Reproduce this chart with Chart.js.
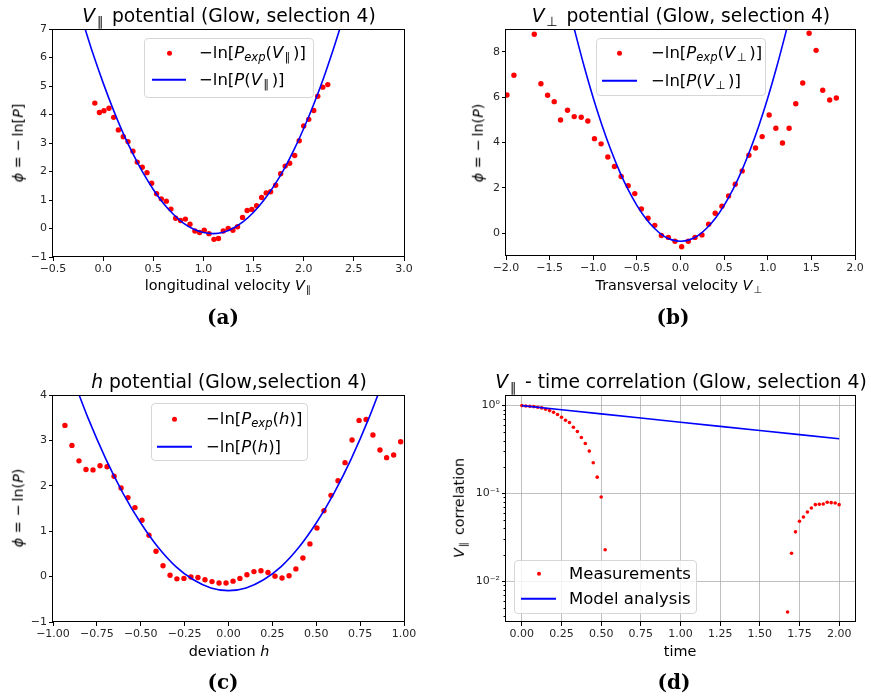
<!DOCTYPE html>
<html>
<head>
<meta charset="utf-8">
<script src="https://cdn.jsdelivr.net/npm/chart.js@4.4.1/dist/chart.umd.min.js"></script>
<style>
    body { margin: 0; background: #fff; }
    #fig { position: relative; width: 871px; height: 700px; overflow: hidden; font-family: "DejaVu Sans", sans-serif; color: #000; }
    #fig canvas { position: absolute; }
    .txt { position: absolute; white-space: nowrap; transform: translate(-50%, -50%); line-height: 1; }
    .ttl { font-size: 18.7px; }
    .lab { font-size: 14.4px; }
    .rot { transform: translate(-50%, -50%) rotate(-90deg); }
    .cap { font-family: "DejaVu Serif", serif; font-weight: bold; font-size: 20px; }
    .leg { position: absolute; border: 1px solid #d6d6d6; border-radius: 4px; background: rgba(255,255,255,0.8); box-sizing: border-box; }
    .row { position: absolute; transform: translateY(-50%); display: flex; align-items: center; white-space: nowrap; font-size: 16.5px; line-height: 1; }
    .mk { display: flex; align-items: center; justify-content: center; }
    sub { font-size: 70%; vertical-align: baseline; position: relative; top: 0.3em; line-height: 0; }
    sub.par { margin-left: 0.12em; margin-right: 0.22em; }
</style>
</head>
<body>
<div id="fig"></div>
<script>
// ==========================================
// DATOS
// ==========================================

// (a) potencial V_par
const aExpX = [-0.083, -0.037, 0.008, 0.058, 0.105, 0.152, 0.201, 0.248, 0.297, 0.34,
               0.39, 0.437, 0.484, 0.533, 0.58, 0.63, 0.676, 0.723, 0.772, 0.82,
               0.866, 0.915, 0.962, 1.008, 1.055, 1.105, 1.15, 1.198, 1.247, 1.294,
               1.34, 1.39, 1.436, 1.483, 1.53, 1.58, 1.626, 1.67, 1.72, 1.77,
               1.815, 1.86, 1.91, 1.955, 2.0, 2.05, 2.1, 2.14, 2.19, 2.24];
const aExpY = [4.40, 4.07, 4.13, 4.22, 3.90, 3.46, 3.22, 3.05, 2.71, 2.33,
               2.15, 1.96, 1.59, 1.22, 1.04, 0.96, 0.68, 0.36, 0.28, 0.33,
               0.15, -0.09, -0.14, -0.06, -0.18, -0.38, -0.35, -0.09, 0.0, -0.06,
               0.06, 0.39, 0.63, 0.67, 0.80, 1.09, 1.25, 1.29, 1.52, 1.92,
               2.19, 2.29, 2.56, 3.08, 3.60, 3.83, 4.14, 4.64, 4.96, 5.05];
const aFitX = [-0.2, -0.1, 0.0, 0.1, 0.2, 0.3, 0.4, 0.5, 0.6, 0.7, 0.8, 0.9, 1.0, 1.1,
               1.2, 1.3, 1.4, 1.5, 1.6, 1.7, 1.8, 1.9, 2.0, 2.1, 2.2, 2.3, 2.4];
const aFitY = [7.23, 6.12, 5.11, 4.18, 3.34, 2.60, 1.94, 1.37, 0.89, 0.50, 0.19, -0.02, -0.14, -0.18,
               -0.13, 0.02, 0.25, 0.57, 0.98, 1.48, 2.06, 2.74, 3.51, 4.36, 5.30, 6.34, 7.46];
const aTicksX = [-0.5, 0.0, 0.5, 1.0, 1.5, 2.0, 2.5, 3.0];
const aLabelsX = ['\u22120.5', '0.0', '0.5', '1.0', '1.5', '2.0', '2.5', '3.0'];
const aTicksY = [-1, 0, 1, 2, 3, 4, 5, 6, 7];
const aLabelsY = ['\u22121', '0', '1', '2', '3', '4', '5', '6', '7'];

// (b) potencial V_perp
const bExpX = [-1.989, -1.909, -1.676, -1.60, -1.523, -1.447, -1.375, -1.295, -1.218, -1.138,
               -1.062, -0.986, -0.91, -0.833, -0.757, -0.68, -0.60, -0.524, -0.448, -0.372,
               -0.295, -0.219, -0.139, -0.063, 0.013, 0.089, 0.166, 0.246, 0.322, 0.398,
               0.475, 0.551, 0.627, 0.707, 0.784, 0.86, 0.936, 1.016, 1.093, 1.169,
               1.245, 1.321, 1.401, 1.474, 1.554, 1.63, 1.71, 1.786];
const bExpY = [6.09, 6.96, 8.77, 6.59, 6.08, 5.80, 4.99, 5.42, 5.14, 5.11,
               4.95, 4.17, 3.94, 3.36, 2.94, 2.50, 2.10, 1.75, 1.07, 0.66,
               0.35, -0.10, -0.18, -0.35, -0.59, -0.35, -0.18, -0.07, 0.40, 0.88,
               1.19, 1.64, 2.16, 2.75, 3.44, 3.76, 4.26, 5.21, 4.63, 3.98,
               4.63, 5.71, 6.62, 8.81, 8.06, 6.30, 5.87, 5.96];
const bFitX = [-1.25, -1.2, -1.1, -1.0, -0.9, -0.8, -0.7, -0.6, -0.5, -0.4, -0.3, -0.2, -0.1, 0.0,
               0.1, 0.2, 0.3, 0.4, 0.5, 0.6, 0.7, 0.8, 0.9, 1.0, 1.1, 1.2, 1.25];
const bFitY = [9.51, 8.74, 7.29, 5.96, 4.76, 3.69, 2.74, 1.92, 1.23, 0.66, 0.22, -0.10, -0.29, -0.35,
               -0.29, -0.10, 0.22, 0.66, 1.23, 1.92, 2.74, 3.69, 4.76, 5.96, 7.29, 8.74, 9.51];
const bTicksX = [-2.0, -1.5, -1.0, -0.5, 0.0, 0.5, 1.0, 1.5, 2.0];
const bLabelsX = ['\u22122.0', '\u22121.5', '\u22121.0', '\u22120.5', '0.0', '0.5', '1.0', '1.5', '2.0'];
const bTicksY = [0, 2, 4, 6, 8];
const bLabelsY = ['0', '2', '4', '6', '8'];

// (c) potencial h
const cExpX = [-0.932, -0.892, -0.852, -0.812, -0.772, -0.732, -0.692, -0.652, -0.612, -0.573,
               -0.533, -0.493, -0.453, -0.413, -0.373, -0.333, -0.294, -0.254, -0.214, -0.174,
               -0.134, -0.094, -0.054, -0.014, 0.026, 0.065, 0.105, 0.145, 0.185, 0.225,
               0.265, 0.305, 0.345, 0.384, 0.424, 0.464, 0.504, 0.544, 0.584, 0.624,
               0.664, 0.704, 0.744, 0.784, 0.823, 0.863, 0.901, 0.941, 0.981];
const cExpY = [3.33, 2.89, 2.55, 2.36, 2.35, 2.44, 2.42, 2.21, 1.95, 1.74,
               1.52, 1.24, 0.91, 0.56, 0.24, 0.03, -0.05, -0.04, -0.01, -0.02,
               -0.07, -0.11, -0.14, -0.14, -0.10, -0.04, 0.04, 0.11, 0.13, 0.09,
               0.01, -0.03, 0.02, 0.17, 0.41, 0.72, 1.07, 1.45, 1.79, 2.11,
               2.51, 3.01, 3.44, 3.46, 3.12, 2.79, 2.62, 2.68, 2.97];
const cFitX = [-0.9, -0.8, -0.7, -0.6, -0.5, -0.4, -0.3, -0.2, -0.1, 0.0,
               0.1, 0.2, 0.3, 0.4, 0.5, 0.6, 0.7, 0.8, 0.9];
const cFitY = [4.50, 3.49, 2.60, 1.83, 1.18, 0.64, 0.22, -0.07, -0.25, -0.31,
               -0.25, -0.07, 0.22, 0.64, 1.18, 1.83, 2.60, 3.49, 4.50];
const cTicksX = [-1.0, -0.75, -0.5, -0.25, 0.0, 0.25, 0.5, 0.75, 1.0];
const cLabelsX = ['\u22121.00', '\u22120.75', '\u22120.50', '\u22120.25', '0.00', '0.25', '0.50', '0.75', '1.00'];
const cTicksY = [-1, 0, 1, 2, 3, 4];
const cLabelsY = ['\u22121', '0', '1', '2', '3', '4'];

// (d) correlacion temporal
const dExpT = [0.0, 0.025, 0.05, 0.075, 0.1, 0.125, 0.15, 0.175, 0.2, 0.225, 0.25,
               0.275, 0.3, 0.325, 0.35, 0.375, 0.4, 0.425, 0.45, 0.475, 0.5, 0.525,
               1.675, 1.7, 1.725, 1.75, 1.775, 1.8, 1.825, 1.85, 1.875, 1.9, 1.925, 1.95, 1.975, 2.0];
const dExpY = [1.0, 0.99, 0.983, 0.974, 0.957, 0.941, 0.908, 0.877, 0.84, 0.79, 0.737,
               0.681, 0.641, 0.567, 0.506, 0.433, 0.37, 0.303, 0.223, 0.153, 0.091, 0.0228,
               0.00444, 0.0208, 0.0364, 0.0481, 0.0538, 0.0614, 0.0681, 0.0743, 0.0750, 0.0757, 0.0791, 0.0783, 0.0775, 0.0743];
const dFitT = [0.0, 0.5, 1.0, 1.5, 2.0];
const dFitY = [1.0, 0.804, 0.646, 0.520, 0.418];
const dTicksX = [0.0, 0.25, 0.5, 0.75, 1.0, 1.25, 1.5, 1.75, 2.0];
const dLabelsX = ['0.00', '0.25', '0.50', '0.75', '1.00', '1.25', '1.50', '1.75', '2.00'];
const dTicksY = [0.01, 0.1, 1];
const dLabelsY = ['10\u207B\u00B2', '10\u207B\u00B9', '10\u2070'];

const Figura = (function() {
    'use strict';

    const PAD_Y = 45;      // ancho reservado a etiquetas del eje y
    const PAD_X = 22;      // alto reservado a etiquetas del eje x
    const PAD_TOP = 6;
    const PAD_RIGHT = 16;
    const fig = document.getElementById('fig');

    const pairs = (xs, ys) => xs.map((x, i) => ({ x: x, y: ys[i] }));

    // Marco completo (matplotlib dibuja los 4 bordes) + ticks menores en log
    const framePlugin = {
        id: 'frame',
        afterDatasetsDraw(chart) {
            const a = chart.chartArea;
            const ctx = chart.ctx;
            ctx.save();
            ctx.strokeStyle = '#000';
            ctx.lineWidth = 1;
            ctx.strokeRect(Math.round(a.left) - 0.5, Math.round(a.top) + 0.5,
                           Math.round(a.right - a.left) + 1, Math.round(a.bottom - a.top) - 1);
            const y = chart.scales.y;
            if (y.type === 'logarithmic') {
                ctx.beginPath();
                [0.001, 0.01, 0.1].forEach(dec => {
                    for (let k = 2; k <= 9; k++) {
                        const v = dec * k;
                        if (v < y.min || v > y.max) continue;
                        const py = Math.round(y.getPixelForValue(v)) + 0.5;
                        ctx.moveTo(a.left - 0.5, py);
                        ctx.lineTo(a.left - 2.5, py);
                    }
                });
                ctx.stroke();
            }
            ctx.restore();
        }
    };

    const axis = function(opts) {
        return {
            type: opts.type || 'linear',
            min: opts.min,
            max: opts.max,
            border: { display: false },
            grid: {
                display: true,
                drawOnChartArea: !!opts.grid,
                color: '#b0b0b0',
                lineWidth: 0.8,
                drawTicks: true,
                tickLength: 4,
                tickColor: '#000',
                tickWidth: 1
            },
            ticks: {
                autoSkip: false,
                maxRotation: 0,
                padding: 2,
                color: '#262626',
                font: { family: 'DejaVu Sans', size: 11 },
                callback: (v, i) => opts.labels[i]
            },
            afterBuildTicks: s => { s.ticks = opts.ticks.map(v => ({ value: v })); },
            afterFit: s => {
                if (opts.horizontal) { s.height = PAD_X; s.paddingLeft = 0; s.paddingRight = 0; }
                else { s.width = PAD_Y; s.paddingTop = 0; s.paddingBottom = 0; }
            }
        };
    };

    const addText = function(html, x, y, cls) {
        const el = document.createElement('div');
        el.className = 'txt ' + cls;
        el.innerHTML = html;
        el.style.left = x + 'px';
        el.style.top = y + 'px';
        fig.appendChild(el);
    };

    const addLegend = function(lg) {
        const box = document.createElement('div');
        box.className = 'leg';
        box.style.left = lg.box[0] + 'px';
        box.style.top = lg.box[1] + 'px';
        box.style.width = lg.box[2] + 'px';
        box.style.height = lg.box[3] + 'px';
        lg.items.forEach((it, i) => {
            const row = document.createElement('div');
            row.className = 'row';
            row.style.left = (lg.mk[0] - lg.box[0]) + 'px';
            row.style.top = (lg.rows[i] - lg.box[1]) + 'px';
            const mk = document.createElement('span');
            mk.className = 'mk';
            mk.style.width = (lg.mk[1] - lg.mk[0]) + 'px';
            mk.style.height = '10px';
            const sym = document.createElement('span');
            if (it.dot) {
                sym.style.cssText = 'width:' + it.dot + 'px;height:' + it.dot + 'px;border-radius:50%;background:#ff0000;';
            } else {
                sym.style.cssText = 'width:100%;height:1.6px;background:#0000ff;';
            }
            mk.appendChild(sym);
            const tx = document.createElement('span');
            tx.style.marginLeft = (lg.tx - lg.mk[1]) + 'px';
            tx.innerHTML = it.text;
            row.appendChild(mk);
            row.appendChild(tx);
            box.appendChild(row);
        });
        fig.appendChild(box);
    };

    const panel = function(p) {
        const w = p.area[2] - p.area[0] + PAD_Y + PAD_RIGHT;
        const h = p.area[3] - p.area[1] + PAD_X + PAD_TOP;
        const canvas = document.createElement('canvas');
        canvas.width = w;
        canvas.height = h;
        canvas.style.left = (p.area[0] - PAD_Y) + 'px';
        canvas.style.top = (p.area[1] - PAD_TOP) + 'px';
        canvas.style.width = w + 'px';
        canvas.style.height = h + 'px';
        fig.appendChild(canvas);

        new Chart(canvas.getContext('2d'), {
            type: 'scatter',
            data: {
                datasets: [{
                    data: p.exp,
                    backgroundColor: '#ff0000',
                    borderWidth: 0,
                    pointRadius: p.dot,
                    showLine: false,
                    order: 1
                }, {
                    data: p.fit,
                    showLine: true,
                    borderColor: '#0000ff',
                    borderWidth: 1.6,
                    pointRadius: 0,
                    tension: 0.3,
                    fill: false,
                    order: 0
                }]
            },
            options: {
                responsive: false,
                animation: false,
                devicePixelRatio: 1,
                layout: { padding: { left: 0, top: PAD_TOP, right: PAD_RIGHT, bottom: 0 } },
                plugins: { legend: { display: false }, tooltip: { enabled: false } },
                scales: {
                    x: Object.assign(axis({ horizontal: true, min: p.x[0], max: p.x[1], ticks: p.x[2], labels: p.x[3], grid: p.grid }), { position: 'bottom' }),
                    y: Object.assign(axis({ type: p.logY ? 'logarithmic' : 'linear', min: p.y[0], max: p.y[1], ticks: p.y[2], labels: p.y[3], grid: p.grid }), { position: 'left' })
                }
            },
            plugins: [framePlugin]
        });

        addText(p.title[0], p.title[1], p.title[2], 'ttl');
        addText(p.xlab[0], p.xlab[1], p.xlab[2], 'lab');
        addText(p.ylab[0], p.ylab[1], p.ylab[2], 'lab rot');
        addText(p.cap[0], p.cap[1], p.cap[2], 'cap');
        addLegend(p.legend);
    };

    const VPAR = '<i>V</i><sub class="par">\u2225</sub>';
    const VPERP = '<i>V</i><sub class="par">\u22A5</sub>';
    const PEXP = '<i>P</i><sub><i>exp</i></sub>';
    const PHI = '<i>\u03D5</i> = \u2212\u2009ln';

    return {
        init: function() {
            panel({
                area: [53, 29, 404, 257],
                exp: pairs(aExpX, aExpY), fit: pairs(aFitX, aFitY), dot: 2.7,
                x: [-0.5, 3.0, aTicksX, aLabelsX], y: [-1, 7, aTicksY, aLabelsY],
                title: [VPAR + ' potential (Glow, selection 4)', 229, 16],
                xlab: ['longitudinal velocity ' + VPAR, 229, 285],
                ylab: [PHI + '[<i>P</i>]', 18, 143],
                cap: ['(a)', 223, 317],
                legend: { box: [144, 38, 170, 60], rows: [52, 79], mk: [151, 185], tx: 198,
                          items: [{ dot: 5, text: '\u2212ln[' + PEXP + '(' + VPAR + ')]' },
                                  { text: '\u2212ln[<i>P</i>(' + VPAR + ')]' }] }
            });
            panel({
                area: [506, 29, 855, 256],
                exp: pairs(bExpX, bExpY), fit: pairs(bFitX, bFitY), dot: 2.7,
                x: [-2.0, 2.0, bTicksX, bLabelsX], y: [-1, 9, bTicksY, bLabelsY],
                title: [VPERP + ' potential (Glow, selection 4)', 681, 16],
                xlab: ['Transversal velocity ' + VPERP, 680, 285],
                ylab: [PHI + '(<i>P</i>)', 478, 143],
                cap: ['(b)', 673, 317],
                legend: { box: [596, 38, 170, 58], rows: [52, 80], mk: [601, 636], tx: 650,
                          items: [{ dot: 5, text: '\u2212ln[' + PEXP + '(' + VPERP + ')]' },
                                  { text: '\u2212ln[<i>P</i>(' + VPERP + ')]' }] }
            });
            panel({
                area: [53, 395, 404, 622],
                exp: pairs(cExpX, cExpY), fit: pairs(cFitX, cFitY), dot: 2.7,
                x: [-1.0, 1.0, cTicksX, cLabelsX], y: [-1, 4, cTicksY, cLabelsY],
                title: ['<i>h</i> potential (Glow,selection 4)', 229, 382],
                xlab: ['deviation <i>h</i>', 229, 651],
                ylab: [PHI + '(<i>P</i>)', 18, 508],
                cap: ['(c)', 223, 682],
                legend: { box: [151, 403, 157, 58], rows: [418, 446], mk: [156, 191], tx: 205,
                          items: [{ dot: 5, text: '\u2212ln[' + PEXP + '(<i>h</i>)]' },
                                  { text: '\u2212ln[<i>P</i>(<i>h</i>)]' }] }
            });
            panel({
                area: [506, 395, 855, 622], grid: true, logY: true,
                exp: pairs(dExpT, dExpY), fit: pairs(dFitT, dFitY), dot: 1.8,
                x: [-0.1, 2.1, dTicksX, dLabelsX], y: [0.00342, 1.32, dTicksY, dLabelsY],
                title: [VPAR + ' - time correlation (Glow, selection 4)', 681, 382],
                xlab: ['time', 680, 651],
                ylab: [VPAR + ' correlation', 459, 508],
                cap: ['(d)', 674, 682],
                legend: { box: [514, 560, 183, 54], rows: [573, 598], mk: [520, 555], tx: 568,
                          items: [{ dot: 4, text: 'Measurements' },
                                  { text: 'Model analysis' }] }
            });
        }
    };
})();

Figura.init();
</script>
</body>
</html>
